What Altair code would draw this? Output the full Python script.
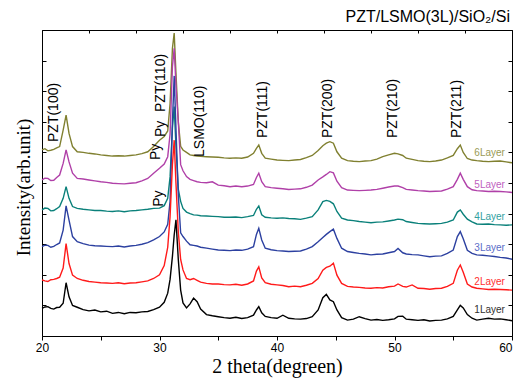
import altair as alt
import pandas as pd

# 2-theta sample positions (degrees), shared by all six scans
theta = [
    20, 20.25, 20.5, 20.75, 21, 21.25, 21.5, 21.8, 22.05, 22.3, 22.6, 23,
    23.5, 24, 24.5, 25, 25.5, 26, 26.5, 27, 27.5, 28, 28.5, 29, 29.5, 30,
    30.4, 30.7, 30.9, 31.1, 31.25, 31.4, 31.6, 31.8, 32.0,
    32.3, 32.6, 32.9, 33.2, 33.5, 34, 34.5, 35, 35.5, 36, 36.5, 37, 37.5, 38,
    38.25, 38.45, 38.7, 39, 39.5, 40, 40.5, 41, 41.5, 42, 42.5, 43, 43.5,
    43.9, 44.2, 44.5, 44.8, 45.1, 45.5, 46, 46.5, 47, 47.5, 48, 48.5, 49, 49.5, 50,
    50.3, 50.7, 51, 51.5, 52, 52.5, 53, 53.5, 54, 54.5, 55,
    55.35, 55.6, 55.85, 56.2, 56.6, 57, 57.5, 58, 58.5, 59, 59.5, 60,
]

int_1layer = [
    0.90, 0.95, 0.96, 0.90, 0.88, 0.93, 0.94, 1.07, 1.74, 1.28, 1.00, 0.94,
    0.86, 0.82, 0.85, 0.79, 0.81, 0.74, 0.77, 0.73, 0.77, 0.76, 0.79, 0.80, 0.86, 0.94,
    1.10, 1.40, 1.85, 2.60, 3.30, 3.80, 2.50, 1.50, 1.08,
    0.92, 1.05, 1.24, 1.12, 0.88, 0.70, 0.66, 0.63, 0.60, 0.58, 0.61, 0.57, 0.60, 0.68,
    0.85, 0.96, 0.76, 0.64, 0.60, 0.58, 0.68, 0.58, 0.56, 0.55, 0.57, 0.63, 0.85,
    1.25, 1.36, 1.18, 1.12, 0.85, 0.60, 0.52, 0.55, 0.63, 0.57, 0.52, 0.54, 0.51, 0.53, 0.56,
    0.64, 0.65, 0.55, 0.53, 0.51, 0.53, 0.49, 0.51, 0.52, 0.56, 0.64,
    0.85, 1.00, 0.92, 0.70, 0.58, 0.52, 0.55, 0.58, 0.55, 0.56, 0.53, 0.50,
]

int_2layer = [
    1.83, 1.80, 1.78, 1.84, 1.85, 1.88, 1.92, 2.22, 3.02, 2.37, 1.99, 1.88,
    1.82, 1.78, 1.76, 1.74, 1.73, 1.72, 1.74, 1.71, 1.73, 1.74, 1.77, 1.80, 1.88, 2.00,
    2.30, 2.90, 3.90, 5.60, 6.40, 5.00, 3.40, 2.50, 2.16,
    1.88, 1.84, 1.88, 1.82, 1.76, 1.72, 1.70, 1.70, 1.68, 1.67, 1.69, 1.66, 1.70, 1.80,
    2.12, 2.26, 1.90, 1.74, 1.69, 1.67, 1.65, 1.61, 1.63, 1.61, 1.66, 1.72, 1.88,
    2.15, 2.24, 2.28, 2.38, 1.99, 1.72, 1.62, 1.60, 1.59, 1.57, 1.56, 1.58, 1.57, 1.61, 1.63,
    1.70, 1.62, 1.60, 1.67, 1.56, 1.55, 1.53, 1.55, 1.56, 1.62, 1.72,
    2.15, 2.32, 2.08, 1.70, 1.60, 1.56, 1.54, 1.52, 1.53, 1.52, 1.51, 1.50,
]

int_3layer = [
    2.92, 2.97, 2.96, 2.90, 2.93, 2.99, 3.04, 3.46, 4.25, 3.79, 3.25, 3.08,
    3.02, 2.97, 2.95, 2.94, 2.93, 2.92, 2.94, 2.91, 2.94, 2.96, 3.00, 3.05, 3.14, 3.25,
    3.40, 3.65, 4.40, 7.00, 8.50, 6.80, 4.60, 3.37, 3.25,
    3.10, 2.98, 2.96, 2.94, 2.90, 2.87, 2.84, 2.81, 2.80, 2.79, 2.81, 2.80, 2.84, 2.92,
    3.32, 3.52, 3.14, 2.87, 2.82, 2.79, 2.78, 2.76, 2.77, 2.78, 2.84, 2.92, 3.08,
    3.22, 3.32, 3.41, 3.49, 3.19, 2.87, 2.76, 2.73, 2.70, 2.68, 2.65, 2.67, 2.68, 2.72, 2.76,
    2.86, 2.72, 2.68, 2.66, 2.65, 2.62, 2.59, 2.61, 2.62, 2.70, 2.81,
    3.25, 3.41, 3.18, 2.80, 2.70, 2.65, 2.64, 2.62, 2.60, 2.57, 2.55, 2.51,
]

int_4layer = [
    4.12, 4.18, 4.17, 4.09, 4.10, 4.16, 4.23, 4.50, 4.88, 4.50, 4.23, 4.17,
    4.14, 4.12, 4.10, 4.10, 4.08, 4.07, 4.09, 4.06, 4.09, 4.10, 4.12, 4.14, 4.17, 4.18,
    4.26, 4.50, 5.20, 6.80, 7.50, 6.20, 4.80, 4.40, 4.17,
    4.05, 4.00, 3.96, 3.95, 3.93, 3.92, 3.91, 3.90, 3.88, 3.88, 3.89, 3.87, 3.90, 3.94,
    4.14, 4.25, 3.96, 3.88, 3.86, 3.85, 3.86, 3.84, 3.83, 3.81, 3.85, 3.90, 4.12,
    4.39, 4.43, 4.40, 4.32, 4.07, 3.85, 3.79, 3.77, 3.74, 3.72, 3.70, 3.72, 3.73, 3.76, 3.79,
    3.82, 3.80, 3.74, 3.71, 3.68, 3.67, 3.66, 3.67, 3.68, 3.72, 3.79,
    4.05, 4.12, 3.98, 3.82, 3.73, 3.66, 3.65, 3.66, 3.64, 3.63, 3.62, 3.63,
]

int_5layer = [
    5.10, 5.16, 5.15, 5.08, 5.09, 5.18, 5.26, 5.64, 6.08, 5.69, 5.32, 5.15,
    5.13, 5.10, 5.07, 5.04, 5.02, 4.99, 4.98, 4.97, 4.99, 5.01, 5.07, 5.15, 5.32, 5.48,
    5.62, 5.86, 6.60, 8.80, 9.40, 8.20, 7.00, 5.60, 5.40,
    5.21, 5.12, 5.08, 5.04, 5.02, 5.01, 5.04, 4.93, 4.91, 4.88, 4.90, 4.88, 4.90, 4.95,
    5.18, 5.32, 5.04, 4.88, 4.85, 4.83, 4.81, 4.79, 4.80, 4.81, 4.86, 4.93, 5.10,
    5.20, 5.28, 5.37, 5.33, 5.06, 4.85, 4.77, 4.76, 4.75, 4.76, 4.77, 4.79, 4.83, 4.87, 4.90,
    4.90, 4.85, 4.79, 4.77, 4.75, 4.74, 4.72, 4.73, 4.74, 4.80, 4.88,
    5.12, 5.32, 5.12, 4.88, 4.78, 4.75, 4.74, 4.72, 4.73, 4.72, 4.71, 4.69,
]

int_6layer = [
    6.08, 6.12, 6.05, 6.07, 6.10, 6.15, 6.19, 6.73, 7.22, 6.62, 6.19, 6.02,
    6.00, 5.97, 5.95, 5.92, 5.90, 5.88, 5.89, 5.88, 5.90, 5.92, 5.96, 6.02, 6.19, 6.40,
    6.52, 6.70, 7.60, 9.40, 9.90, 8.60, 7.00, 6.20, 6.08,
    6.00, 5.92, 5.90, 5.88, 5.87, 5.86, 5.85, 5.84, 5.82, 5.81, 5.82, 5.81, 5.85, 5.97,
    6.13, 6.24, 5.97, 5.81, 5.78, 5.75, 5.74, 5.73, 5.75, 5.77, 5.83, 5.90, 6.06,
    6.22, 6.30, 6.35, 6.30, 6.02, 5.81, 5.73, 5.71, 5.70, 5.72, 5.73, 5.78, 5.86, 5.92, 5.97,
    5.95, 5.90, 5.81, 5.77, 5.73, 5.71, 5.70, 5.72, 5.75, 5.82, 5.90,
    6.12, 6.24, 6.00, 5.80, 5.75, 5.73, 5.71, 5.70, 5.71, 5.72, 5.69, 5.66,
]

series_names = ["6Layer", "5Layer", "4Layer", "3Layer", "2Layer", "1Layer"]
series_values = [int_6layer, int_5layer, int_4layer, int_3layer, int_2layer, int_1layer]
line_colors = ["#808030", "#b040a8", "#0a807a", "#2c40a0", "#ff1a1a", "#000000"]
label_colors = ["#9a9a55", "#c060c0", "#30a0a0", "#5a6cc8", "#ff3030", "#303030"]
label_y = [5.98, 4.93, 3.90, 2.88, 1.78, 0.85]
label_x = 59.4

peak_labels = ["PZT(100)", "Py", "PZT(110)", "Py", "Py", "LSMO(110)",
               "PZT(111)", "PZT(200)", "PZT(210)", "PZT(211)"]
peak_x = [20.98, 30.17, 30.13, 29.70, 29.96, 33.45, 38.80, 44.34, 49.87, 55.30]
peak_y = [6.34, 6.50, 7.32, 5.75, 4.22, 5.85, 6.47, 6.47, 6.47, 6.47]

rows = []
for name, vals, col in zip(series_names, series_values, line_colors):
    for t, v in zip(theta, vals):
        rows.append({"theta": t, "intensity": v, "series": name, "col": col})
df = pd.DataFrame(rows)

ann_df = pd.DataFrame({"label": peak_labels, "theta": peak_x, "intensity": peak_y})
lab_df = pd.DataFrame({"label": series_names, "lx": [label_x] * 6, "ly": label_y,
                       "col": label_colors})

xs = alt.Scale(domain=[20, 60], nice=False, zero=False)
ys = alt.Scale(domain=[0, 10], nice=False, zero=False)

bottom_axis = alt.Axis(
    values=[20, 25, 30, 35, 40, 45, 50, 55, 60],
    labelExpr="datum.value % 10 === 0 ? datum.label : ''",
    labelAlign={"expr": "datum.value === 60 ? 'right' : 'center'"},
    labelFlush=False, tickSize=4, labelPadding=2, domain=False, grid=False,
    labelFont="Liberation Sans", labelFontSize=12, labelColor="#000",
    tickColor="#000", title="2 theta(degreen)", titleFont="Liberation Serif",
    titleFontSize=20, titleFontWeight="normal", titleColor="#000",
    titleBaseline="top", titleY=20,
)
left_axis = alt.Axis(
    values=list(range(0, 11)), labels=False, tickSize=4, offset=-4,
    domain=False, grid=False, tickColor="#000",
    title="Intensity(arb.unit)", titleFont="Liberation Serif", titleFontSize=19,
    titleFontWeight="normal", titleColor="#000", titleBaseline="middle",
    titleAlign="center", titleAngle=270, titleX=-23, titleY=157,
)
top_axis = alt.Axis(
    orient="top", values=list(range(20, 61, 4)), labels=False, title=None,
    tickSize=3, offset=-3, domain=False, grid=False, tickColor="#000",
)
right_axis = alt.Axis(
    orient="right", values=list(range(0, 11)), labels=False, title=None,
    tickSize=4, offset=-4, domain=False, grid=False, tickColor="#000",
)

lines = alt.Chart(df).mark_line(strokeWidth=1.4).encode(
    x=alt.X("theta:Q", scale=xs, axis=bottom_axis),
    y=alt.Y("intensity:Q", scale=ys, axis=left_axis),
    color=alt.Color("col:N", scale=None),
    detail="series:N",
)

ann = alt.Chart(ann_df).mark_text(
    angle=270, align="left", baseline="middle", font="Liberation Sans",
    fontSize=14, color="#000",
).encode(
    x=alt.X("theta:Q", scale=xs, axis=None),
    y=alt.Y("intensity:Q", scale=ys, axis=None),
    text="label:N",
)

labels = alt.Chart(lab_df).mark_text(
    align="right", baseline="middle", font="Liberation Sans", fontSize=10,
).encode(
    x=alt.X("lx:Q", scale=xs, axis=top_axis),
    y=alt.Y("ly:Q", scale=ys, axis=right_axis),
    text="label:N",
    color=alt.Color("col:N", scale=None),
)

chart = alt.layer(lines, ann, labels).resolve_axis(
    x="independent", y="independent"
).properties(
    width=470, height=306,
    autosize=alt.AutoSizeParams(type="none"),
    padding={"left": 34, "top": 22, "right": 4, "bottom": 43},
    title=alt.TitleParams(
        "PZT/LSMO(3L)/SiO₂/Si", anchor="end", frame="group", fontSize=16,
        font="Liberation Sans", fontWeight="normal", color="#000",
        baseline="alphabetic", offset=-8, dx=-2,
    ),
).configure_view(stroke="#000", strokeWidth=1)

chart.save("out.html", embed_options={"renderer": "svg", "actions": False})
